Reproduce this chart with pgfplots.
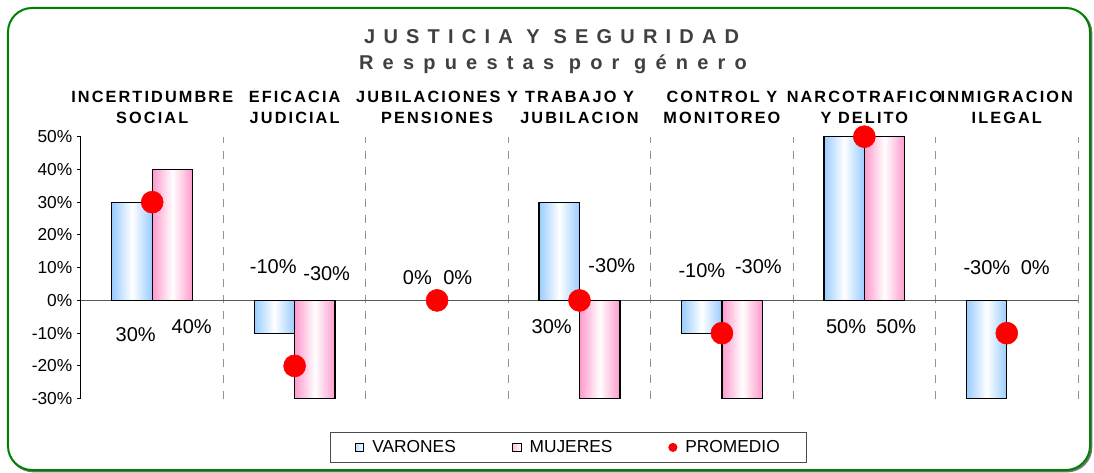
\documentclass[border=0pt]{standalone}
\usepackage{fontspec}
\setmainfont{Liberation Sans}
\newfontfamily\catfont[LetterSpace=13]{Liberation Sans}
\newfontfamily\titlefont[LetterSpace=41]{Liberation Sans}
\newfontfamily\subfont[LetterSpace=46]{Liberation Sans}
\usepackage{pgfplots}
\pgfplotsset{compat=1.18}
\definecolor{bluebar}{HTML}{99CCFF}
\definecolor{pinkbar}{HTML}{FF99CC}
\definecolor{framegreen}{HTML}{008000}
\definecolor{titlegray}{HTML}{404040}
\pgfplotsset{
  varbar/.style={ybar, bar width=0.284, bar shift=-0.142, draw=black, line width=0.9pt,
    left color=bluebar, right color=bluebar, middle color=white},
  mujbar/.style={ybar, bar width=0.284, bar shift=0.142, draw=black, line width=0.9pt,
    left color=pinkbar, right color=pinkbar, middle color=white},
}
\begin{document}
\begin{tikzpicture}
\useasboundingbox (-60.75pt,-55pt) rectangle (759.75pt,299pt);
\draw[black!55, line width=1.5pt, rounded corners=18pt] (-53.75pt,-54.5pt) rectangle (757.75pt,292pt);
\draw[framegreen, line width=1.5pt, rounded corners=18pt, fill=white] (-54.75pt,-53.5pt) rectangle (756.75pt,293pt);
\begin{axis}[
  scale only axis, width=747.75pt, height=196.5pt,
  xmin=-0.5, xmax=6.5, ymin=-30, ymax=50,
  axis x line*=top, axis y line*=left,
  x axis line style={draw=none},
  y axis line style={black, line width=0.75pt, -},
  xtick={0,...,6},
  xticklabels={{INCERTIDUMBRE\\SOCIAL},{EFICACIA\\JUDICIAL},{JUBILACIONES Y\\PENSIONES},{TRABAJO Y\\JUBILACION},{CONTROL Y\\MONITOREO},{NARCOTRAFICO\\Y DELITO},{INMIGRACION\\ILEGAL}},
  xtick style={draw=none},
  xticklabel style={align=center, yshift=3pt, font=\catfont\bfseries\fontsize{12.2}{15.75}\selectfont},
  ytick={-30,-20,...,50},
  yticklabels={-30\%,-20\%,-10\%,0\%,10\%,20\%,30\%,40\%,50\%},
  ytick style={black, line width=0.75pt},
  tick align=outside, major tick length=3pt,
  yticklabel style={font=\fontsize{13}{15}\selectfont},
  clip=false,
  legend columns=3,
  legend style={at={(0.489,-0.186)}, anchor=center, draw=black!70, line width=0.75pt,
    inner xsep=18pt, inner ysep=4pt, font=\fontsize{13}{15}\selectfont,
    /tikz/every odd column/.append style={column sep=4pt},
    /tikz/every even column/.append style={column sep=40pt}},
  legend cell align=left,
]
\pgfplotsinvokeforeach{0,...,6}{
  \draw[gray!85, line width=0.75pt, dash pattern=on 6pt off 6pt] (axis cs:#1+0.5,-30) -- (axis cs:#1+0.5,50);
}
\draw[black!65, line width=0.75pt] (axis cs:-0.5,0) -- (axis cs:6.5,0);

% VARONES
\addplot[varbar,
  legend image code/.code={\draw[black, line width=0.8pt, left color=bluebar!70, right color=white] (0pt,-3.25pt) rectangle (6.5pt,3.25pt);}]
  coordinates {(0,30)};
\addlegendentry{VARONES}
% MUJERES
\addplot[mujbar,
  legend image code/.code={\draw[black, line width=0.8pt, left color=pinkbar!60, right color=white] (0pt,-3.25pt) rectangle (6.5pt,3.25pt);}]
  coordinates {(0,40)};
\addlegendentry{MUJERES}
\addplot[varbar, forget plot] coordinates {(1,-10)};
\addplot[ybar, bar width=0.284, bar shift=-0.142, draw=none, fill=none, forget plot] coordinates {(2,0)};
\addplot[varbar, forget plot] coordinates {(3,30)};
\addplot[varbar, forget plot] coordinates {(4,-10)};
\addplot[varbar, forget plot] coordinates {(5,50)};
\addplot[varbar, forget plot] coordinates {(6,-30)};
\addplot[mujbar, forget plot] coordinates {(1,-30)};
\addplot[ybar, bar width=0.284, bar shift=0.142, draw=none, fill=none, forget plot] coordinates {(2,0)};
\addplot[mujbar, forget plot] coordinates {(3,-30)};
\addplot[mujbar, forget plot] coordinates {(4,-30)};
\addplot[mujbar, forget plot] coordinates {(5,50)};
\addplot[ybar, bar width=0.284, bar shift=0.142, draw=none, fill=none, forget plot] coordinates {(6,0)};

% PROMEDIO
\addplot[only marks, mark=*, mark size=8.25pt, red, mark options={draw=none, fill=red},
  legend image code/.code={\fill[red] (3.25pt,0pt) circle (3pt);}]
  coordinates {(0,30) (1,-20) (2,0) (3,0) (4,-10) (5,50) (6,-10)};
\addlegendentry{PROMEDIO}

\addplot[forget plot, draw=none, mark=none, nodes near coords={\pgfplotspointmeta\%},
  point meta=explicit symbolic,
  nodes near coords style={anchor=center, font=\fontsize{15}{18}\selectfont, text=black}]
  table[meta=l] {
x y l
-0.116 -10.3 30
0.277 -7.9 40
0.85 10.2 -10
1.225 8.2 -30
1.862 7.1 0
2.145 7.1 0
2.805 -7.9 30
3.227 10.6 -30
3.859 9.1 -10
4.256 10.4 -30
4.872 -7.9 50
5.223 -7.9 50
5.86 10.1 -30
6.2 10.1 0
};
\end{axis}
\node[font=\titlefont\bfseries\fontsize{15}{18}\selectfont, text=titlegray] at (353pt,271.3pt) {JUSTICIA Y SEGURIDAD};
\node[font=\subfont\bfseries\fontsize{15}{18}\selectfont, text=titlegray] at (354pt,251pt) {Respuestas por género};
\end{tikzpicture}
\end{document}
